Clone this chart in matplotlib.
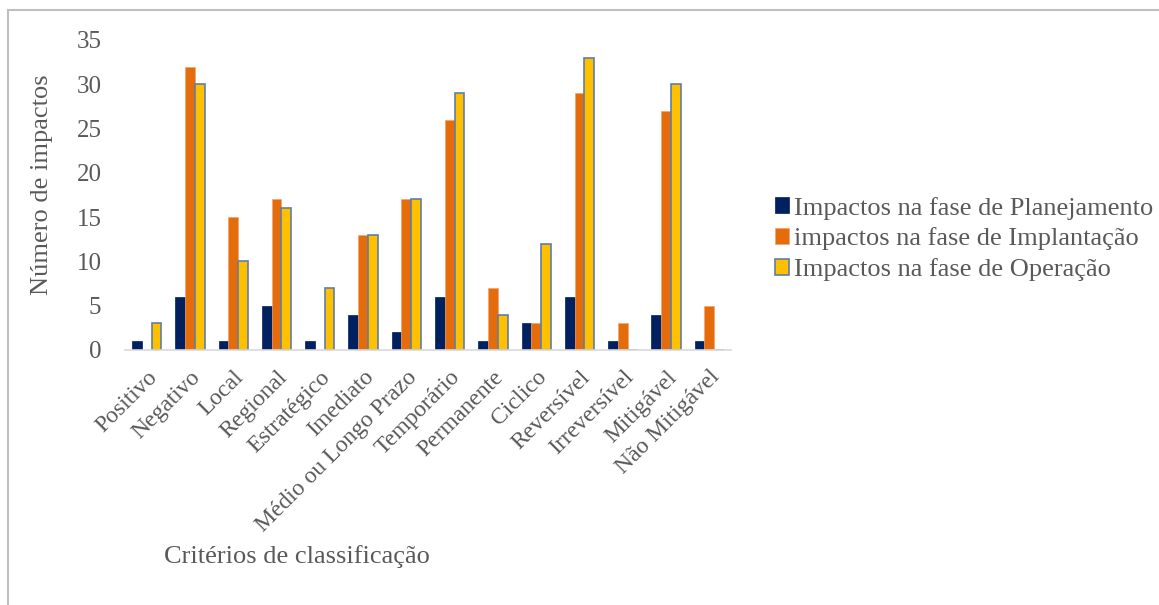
import matplotlib
matplotlib.use("Agg")
import matplotlib.pyplot as plt
import numpy as np
from matplotlib.lines import Line2D

categories = ["Positivo", "Negativo", "Local", "Regional", "Estratégico", "Imediato",
              "Médio ou Longo Prazo", "Temporário", "Permanente", "Ciclico",
              "Reversível", "Irreversível", "Mitigável", "Não Mitigável"]
planejamento = [1, 6, 1, 5, 1, 4, 2, 6, 1, 3, 6, 1, 4, 1]
implantacao = [0, 32, 15, 17, 0, 13, 17, 26, 7, 3, 29, 3, 27, 5]
operacao = [3, 30, 10, 16, 7, 13, 17, 29, 4, 12, 33, 0, 30, 0]
series_names = ["Impactos na fase de Planejamento", "impactos na fase de Implantação",
                "Impactos na fase de Operação"]
yticks = [0, 5, 10, 15, 20, 25, 30, 35]

plt.rcParams['font.family'] = ['Liberation Serif', 'DejaVu Serif']
gray = "#595959"

fig = plt.figure(figsize=(11.59, 6.05), dpi=100)
ax = fig.add_axes([125/1159, 1-350/605, (731-125)/1159, (350-40)/605])

x = np.arange(len(categories))
w = 0.225
ax.bar(x - w, planejamento, w, color="#002060", edgecolor="#002060", linewidth=0.5,
       label=series_names[0])
ax.bar(x, implantacao, w, color="#E46C0A", edgecolor="#F4A070", linewidth=0.5,
       label=series_names[1])
ax.bar(x + w, operacao, w, color="#FFC000", edgecolor="#5F7FA8", linewidth=1.2,
       label=series_names[2])

ax.set_xlim(-0.5, len(categories) - 0.5)
ax.set_ylim(0, 35)
ax.set_yticks(yticks)
ax.set_yticklabels([str(t) for t in yticks], fontsize=18, color=gray)
ax.tick_params(axis='y', length=0, pad=17)
ax.set_xticks(x)
ax.set_xticklabels(categories, rotation=45, ha='right', rotation_mode='anchor',
                   fontsize=17, color=gray)
ax.tick_params(axis='x', length=0, pad=12)
for s in ['top', 'right', 'left']:
    ax.spines[s].set_visible(False)
ax.spines['bottom'].set_color("#D9D9D9")
ax.spines['bottom'].set_linewidth(1.2)

fig.text(297/1159, 1-557/605, "Critérios de classificação", fontsize=19, color=gray,
         ha='center', va='center')
fig.text(42/1159, 1-185/605, "Número de impactos", fontsize=19, color=gray,
         ha='center', va='center', rotation=90)

leg = fig.legend(loc='upper left', bbox_to_anchor=(764/1159, 1-186/605), frameon=False,
                 fontsize=19, handlelength=0.55, handleheight=0.55, handletextpad=0.2,
                 labelspacing=0.3, borderaxespad=0)
for t in leg.get_texts():
    t.set_color(gray)

fig.add_artist(Line2D([8/1159, 8/1159], [0, 1-10/605], transform=fig.transFigure,
                      color="#BFBFBF", linewidth=1.5))
fig.add_artist(Line2D([8/1159, 1], [1-10/605, 1-10/605], transform=fig.transFigure,
                      color="#BFBFBF", linewidth=1.5))

fig.savefig("out.png", dpi=100)
